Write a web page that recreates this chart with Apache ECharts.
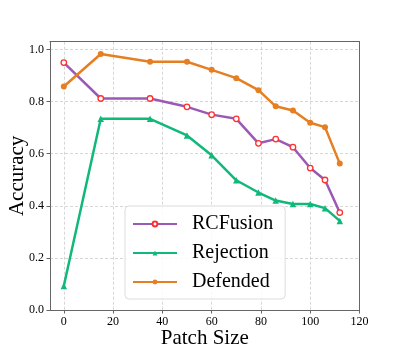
<!DOCTYPE html>
<html>
<head>
<meta charset="utf-8">
<script src="https://cdn.jsdelivr.net/npm/echarts@6/dist/echarts.min.js"></script>
<style>html,body{margin:0;padding:0;background:#fff;}#chart{width:399px;height:349px;}</style>
</head>
<body>
<div id="chart"></div>
<script>
const patchSizes = [0, 15, 35, 50, 60, 70, 79, 86, 93, 100, 106, 112];
const rcfusion  = [0.950, 0.812, 0.812, 0.780, 0.750, 0.734, 0.640, 0.656, 0.625, 0.545, 0.499, 0.374];
const rejection = [0.092, 0.734, 0.734, 0.670, 0.594, 0.498, 0.451, 0.420, 0.407, 0.407, 0.391, 0.342];
const defended  = [0.858, 0.983, 0.953, 0.953, 0.922, 0.890, 0.844, 0.782, 0.766, 0.719, 0.702, 0.562];
const xTicks = [0, 20, 40, 60, 80, 100, 120];
const yTicks = [0.0, 0.2, 0.4, 0.6, 0.8, 1.0];

const font = '"Liberation Serif", "Times New Roman", serif';
const pair = arr => patchSizes.map((x, i) => [x, arr[i]]);
const frameLine = {show: true, onZero: false, lineStyle: {color: '#666', width: 1}};

const chart = echarts.init(document.getElementById('chart'), null, {renderer: 'canvas'});
chart.setOption({
  animation: false,
  backgroundColor: '#fff',
  grid: {left: 50, right: 39.5, top: 41.7, bottom: 39, outerBoundsMode: 'none', containLabel: false},
  xAxis: [{
    type: 'value', min: -5.6, max: 120,
    name: 'Patch Size', nameLocation: 'middle', nameGap: 17.5, nameMoveOverlap: false,
    nameTextStyle: {fontFamily: font, fontSize: 21, color: '#000', verticalAlign: 'top'},
    axisLine: frameLine,
    axisTick: {show: true, length: 3.5, lineStyle: {color: '#666'}, customValues: xTicks},
    axisLabel: {fontFamily: font, fontSize: 12, color: '#000', margin: 6, customValues: xTicks},
    splitLine: {show: true, lineStyle: {color: '#ccc', type: [3, 2], width: 0.8}}
  }, {
    type: 'value', min: -5.6, max: 120, position: 'top',
    axisLine: frameLine, axisTick: {show: false}, axisLabel: {show: false}, splitLine: {show: false}
  }],
  yAxis: [{
    type: 'value', min: 0, max: 1.03,
    name: 'Accuracy', nameLocation: 'middle', nameGap: 22, nameRotate: 90, nameMoveOverlap: false,
    nameTextStyle: {fontFamily: font, fontSize: 21, color: '#000'},
    axisLine: frameLine,
    axisTick: {show: true, length: 3.5, lineStyle: {color: '#666'}, customValues: yTicks},
    axisLabel: {fontFamily: font, fontSize: 12, color: '#000', margin: 6, customValues: yTicks,
      formatter: v => v.toFixed(1)},
    splitLine: {show: true, lineStyle: {color: '#ccc', type: [3, 2], width: 0.8}}
  }, {
    type: 'value', min: 0, max: 1.03, position: 'right',
    axisLine: frameLine, axisTick: {show: false}, axisLabel: {show: false}, splitLine: {show: false}
  }],
  legend: {
    left: 125, top: 206,
    orient: 'vertical',
    padding: [7, 12, 6, 7],
    itemGap: 7,
    itemWidth: 44, itemHeight: 6,
    backgroundColor: 'rgba(255,255,255,0.85)',
    borderColor: '#ddd', borderWidth: 1, borderRadius: 4,
    textStyle: {fontFamily: font, fontSize: 20, color: '#000', lineHeight: 22, padding: [0, 0, 0, 10]},
    data: ['RCFusion', 'Rejection', 'Defended']
  },
  series: [
    {name: 'RCFusion', type: 'line', data: pair(rcfusion), z: 3,
      lineStyle: {color: '#9b59b6', width: 2.5}, itemStyle: {color: '#fff', borderColor: '#ff3030', borderWidth: 1.3},
      symbol: 'circle', symbolSize: 5.5, showAllSymbol: true},
    {name: 'Rejection', type: 'line', data: pair(rejection), z: 3,
      lineStyle: {color: '#10b87a', width: 2.5}, itemStyle: {color: '#10b87a'},
      symbol: 'triangle', symbolSize: 6.5, showAllSymbol: true},
    {name: 'Defended', type: 'line', data: pair(defended), z: 3,
      lineStyle: {color: '#e67e22', width: 2.5}, itemStyle: {color: '#e67e22'},
      symbol: 'circle', symbolSize: 6, showAllSymbol: true}
  ]
});
</script>
</body>
</html>
